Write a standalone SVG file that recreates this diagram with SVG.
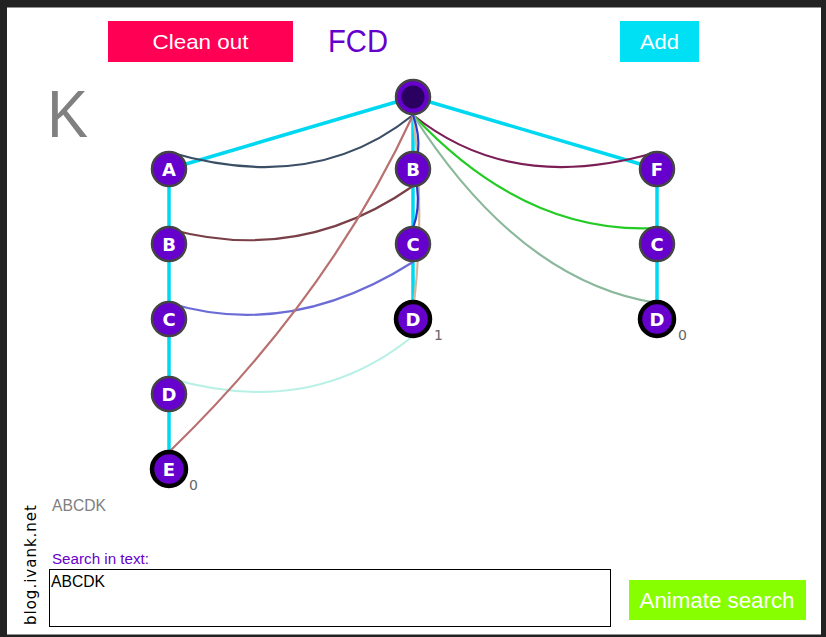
<svg xmlns="http://www.w3.org/2000/svg" width="826" height="637" viewBox="0 0 826 637">
<style>
.ui{font-family:"Liberation Sans",Arial,sans-serif}
.edge{stroke:#00D8F2;stroke-width:3.5;fill:none}
.link{fill:none;stroke-width:2.2}
.node circle{fill:#6600CC;stroke:#444;stroke-width:2.5}
.node circle.core{fill:#2A0060;stroke:none}
.node.term circle{stroke:#000;stroke-width:4.5}
.node text{font-family:"DejaVu Sans",Verdana,sans-serif;font-weight:bold;font-size:18px;fill:#fff;text-anchor:middle}
.cnt{font-family:"DejaVu Sans",Verdana,sans-serif;font-size:14px;fill:#666}
</style>
<rect x="0" y="0" width="826" height="637" fill="#222"/>
<rect x="7" y="7.5" width="814" height="627" fill="#fff"/>

<g id="btn-clean">
<rect x="108" y="21" width="185" height="41" fill="#FF0055"/>
<text class="ui" x="200.5" y="49" font-size="21" fill="#fff" text-anchor="middle" textLength="96" lengthAdjust="spacingAndGlyphs">Clean out</text>
</g>
<g id="title"><text class="ui" x="358" y="52" font-size="32" fill="#6600CC" text-anchor="middle" textLength="60" lengthAdjust="spacingAndGlyphs">FCD</text></g>
<g id="btn-add">
<rect x="620" y="21" width="79" height="41" fill="#00E0F5"/>
<text class="ui" x="659.5" y="49" font-size="21" fill="#fff" text-anchor="middle" textLength="39" lengthAdjust="spacingAndGlyphs">Add</text>
</g>
<g id="letter"><text class="ui" x="47" y="137" font-size="66" fill="#808080" textLength="41" lengthAdjust="spacingAndGlyphs">K</text></g>

<g id="connectors">
<path class="edge" d="M413 97 L169 169 M413 97 L413 169 M413 97 L657 169 M169 169 V469 M413 169 V319 M657 169 V319"/>
<path class="link" stroke="#3A4E66" d="M169 152 Q314 195 413 115"/>
<path class="link" stroke="#7A1E55" d="M657 152 Q512 195 413 115"/>
<path class="link" stroke="#22CC22" d="M413 115 Q525 235 657 228"/>
<path class="link" stroke="#8AB89A" d="M413 115 Q520 282 657 303"/>
<path class="link" stroke="#7A4048" d="M169 229 Q300 265 413 186"/>
<path class="link" stroke="#6C6CD6" d="M169 303 Q290 340 413 262"/>
<path class="link" stroke="#B8F0E6" d="M169 378 Q310 420 413 336"/>
<path class="link" stroke="#B87070" d="M169 452 Q329 297 413 115"/>
<path class="link" stroke="#D4B89A" d="M413 115 Q425 210 414 303"/>
<path class="link" stroke="#2A3AD0" d="M413 115 Q420 135 418 152"/>
<path class="link" stroke="#2A3AD0" d="M417 186 Q420 210 413 228"/>
</g>

<g id="root" class="node"><circle cx="413" cy="97" r="17"/><circle class="core" cx="413" cy="97" r="11.5"/></g>
<g id="n-A" class="node"><circle cx="169" cy="169" r="17"/><text x="169" y="175.5">A</text></g>
<g id="n-AB" class="node"><circle cx="169" cy="244" r="17"/><text x="169" y="250.5">B</text></g>
<g id="n-ABC" class="node"><circle cx="169" cy="319" r="17"/><text x="169" y="325.5">C</text></g>
<g id="n-ABCD" class="node"><circle cx="169" cy="394" r="17"/><text x="169" y="400.5">D</text></g>
<g id="n-ABCDE" class="node term"><circle cx="169" cy="469" r="17"/><text x="169" y="475.5">E</text></g>
<g id="n-B" class="node"><circle cx="413" cy="169" r="17"/><text x="413" y="175.5">B</text></g>
<g id="n-BC" class="node"><circle cx="413" cy="244" r="17"/><text x="413" y="250.5">C</text></g>
<g id="n-BCD" class="node term"><circle cx="413" cy="319" r="17"/><text x="413" y="325.5">D</text></g>
<g id="n-F" class="node"><circle cx="657" cy="169" r="17"/><text x="657" y="175.5">F</text></g>
<g id="n-FC" class="node"><circle cx="657" cy="244" r="17"/><text x="657" y="250.5">C</text></g>
<g id="n-FCD" class="node term"><circle cx="657" cy="319" r="17"/><text x="657" y="325.5">D</text></g>
<g id="counts">
<text class="cnt" x="189" y="490">0</text>
<text class="cnt" x="434" y="340">1</text>
<text class="cnt" x="678" y="340">0</text>
</g>

<g id="bottom">
<text class="ui" x="52" y="511" font-size="17" fill="#808080" textLength="54" lengthAdjust="spacingAndGlyphs">ABCDK</text>
<text class="ui" x="52" y="564" font-size="14" fill="#6600CC" textLength="97" lengthAdjust="spacingAndGlyphs">Search in text:</text>
<rect x="49.5" y="569.5" width="561" height="57" fill="#fff" stroke="#000" stroke-width="1"/>
<text class="ui" x="51" y="587" font-size="17" fill="#000" textLength="54" lengthAdjust="spacingAndGlyphs">ABCDK</text>
<rect x="629" y="580" width="177" height="40" fill="#88FF00"/>
<text class="ui" x="717" y="608" font-size="22" fill="#fff" text-anchor="middle" textLength="155" lengthAdjust="spacingAndGlyphs">Animate search</text>
<text transform="translate(36 625) rotate(-90)" font-family="'DejaVu Sans',sans-serif" font-size="15" fill="#000" textLength="120" lengthAdjust="spacing">blog.ivank.net</text>
</g>
</svg>
